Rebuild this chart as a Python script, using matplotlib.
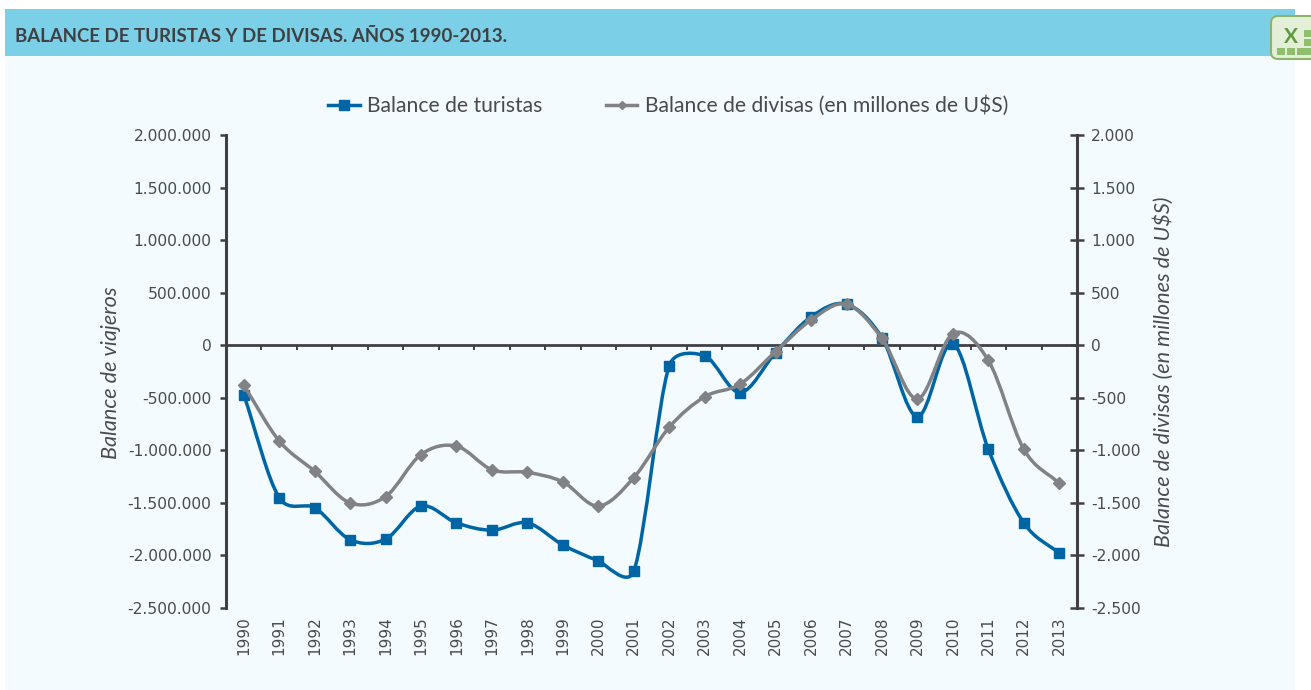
import numpy as np
import matplotlib
matplotlib.use("Agg")
import matplotlib.pyplot as plt
from matplotlib.lines import Line2D
from matplotlib.patches import PathPatch, Rectangle, FancyBboxPatch
from matplotlib.path import Path

# Data
years = [str(y) for y in range(1990, 2014)]
turistas = [-470000, -1450000, -1545000, -1850000, -1845000, -1530000, -1690000, -1760000,
            -1690000, -1900000, -2050000, -2150000, -195000, -100000, -450000, -70000,
            270000, 390000, 70000, -680000, 15000, -990000, -1690000, -1980000]
divisas = [-380, -910, -1200, -1500, -1440, -1040, -960, -1185,
           -1210, -1300, -1530, -1260, -780, -490, -370, -60,
           240, 390, 65, -510, 110, -145, -990, -1315]
left_ticks = [2000000, 1500000, 1000000, 500000, 0, -500000, -1000000, -1500000, -2000000, -2500000]
left_labels = ["2.000.000", "1.500.000", "1.000.000", "500.000", "0", "-500.000",
               "-1.000.000", "-1.500.000", "-2.000.000", "-2.500.000"]
right_ticks = [2000, 1500, 1000, 500, 0, -500, -1000, -1500, -2000, -2500]
right_labels = ["2.000", "1.500", "1.000", "500", "0", "-500", "-1.000", "-1.500", "-2.000", "-2.500"]

BLUE = "#0065A4"
GREY = "#808285"
DARK = "#404043"
TEXT = "#4A4A4D"
W, H = 1311, 690
plt.rcParams["font.family"] = ["Lato", "DejaVu Sans"]


def smooth_path(axis, xs, ys):
    # Excel's smoothed line: bezier segments worked out in pixels, tangents
    # shortened when a neighbour is far away compared to the segment
    pts = axis.transData.transform(np.column_stack([xs, ys]).astype(float))
    verts = [pts[0]]
    codes = [Path.MOVETO]
    for i in range(len(pts) - 1):
        p0 = pts[max(i - 1, 0)]
        p1 = pts[i]
        p2 = pts[i + 1]
        p3 = pts[min(i + 2, len(pts) - 1)]
        d02 = np.hypot(*(p2 - p0))
        d12 = np.hypot(*(p2 - p1))
        d13 = np.hypot(*(p3 - p1))
        if d02 / 6 < d12 / 2 and d13 / 6 < d12 / 2:
            f0 = 1 / 3 if i == 0 else 1 / 6
            f1 = 1 / 3 if i == len(pts) - 2 else 1 / 6
            b1 = p1 + f0 * (p2 - p0)
            b2 = p2 + f1 * (p1 - p3)
        elif d02 / 6 >= d12 / 2 and d13 / 6 >= d12 / 2:
            b1 = p1 + d12 / (2 * d02) * (p2 - p0)
            b2 = p2 + d12 / (2 * d13) * (p1 - p3)
        elif d02 / 6 >= d12 / 2:
            b1 = p1 + d12 / (2 * d02) * (p2 - p0)
            b2 = p2 + d12 / (2 * d02) * (p1 - p3)
        else:
            b1 = p1 + d12 / (2 * d13) * (p2 - p0)
            b2 = p2 + d12 / (2 * d13) * (p1 - p3)
        verts += [b1, b2, p2]
        codes += [Path.CURVE4, Path.CURVE4, Path.CURVE4]
    return Path(axis.transData.inverted().transform(np.array(verts)), codes)


fig = plt.figure(figsize=(W / 100, H / 100), dpi=100, facecolor="white")

# Panel, header band and the little spreadsheet icon, in pixel coordinates
bg = fig.add_axes([0, 0, 1, 1])
bg.set_xlim(0, W)
bg.set_ylim(H, 0)
bg.axis("off")
bg.add_patch(Rectangle((5, 9), 1290, 681, color="#F3FBFE", lw=0))
bg.add_patch(Rectangle((5, 9), 1290, 47, color="#7BCFE6", lw=0))
bg.text(15, 36, "BALANCE DE TURISTAS Y DE DIVISAS. AÑOS 1990-2013.", fontsize=13.4,
        fontweight="bold", color=DARK, va="center", ha="left")
bg.add_patch(FancyBboxPatch((1271, 16), 60, 43, boxstyle="round,pad=0,rounding_size=7",
                            fc="#E4EFD8", ec="#8DB36B", lw=1.5))
bg.text(1291, 37, "X", fontsize=15, fontweight="bold", color="#5E9A3E", ha="center", va="center")
for px, py in [(1277, 48), (1287, 48), (1297, 48), (1304, 30), (1304, 39), (1304, 48)]:
    bg.add_patch(Rectangle((px, py), 8, 7, color="#8FBF6C", lw=0))

# Main axes
ax = fig.add_axes([226 / W, 1 - 608 / H, (1077 - 226) / W, (608 - 135) / H])
ax.patch.set_alpha(0)
x = np.arange(len(years))
ax.set_xlim(-0.5, len(years) - 0.5)
ax.set_ylim(-2500000, 2000000)
ax.set_yticks(left_ticks)
ax.set_yticklabels(left_labels, family="DejaVu Sans")
ax.set_xticks(x)
ax.set_xticklabels(years, rotation=90, family="DejaVu Sans")
ax.tick_params(axis="x", length=0, pad=6, labelsize=11, labelcolor=TEXT)
ax.tick_params(axis="y", length=4.5, width=1.8, color=DARK, pad=6, labelsize=11.2, labelcolor=TEXT)
for side in ["top", "right", "bottom"]:
    ax.spines[side].set_visible(False)
ax.spines["left"].set_linewidth(2.2)
ax.spines["left"].set_color(DARK)

# Zero line with ticks between the categories
zero = ax.secondary_xaxis(2500000 / 4500000)
zero.set_xticks(np.arange(-0.5, len(years)))
zero.set_xticklabels([])
zero.tick_params(length=3.5, width=1.4, color=DARK, direction="in")
for side in ["top", "bottom"]:
    zero.spines[side].set_linewidth(2)
    zero.spines[side].set_color(DARK)

ax.add_patch(PathPatch(smooth_path(ax, x, turistas), fc="none", ec=BLUE, lw=2.5))
ax.plot(x, turistas, ls="none", marker="s", ms=7.4, color=BLUE)

# Right axis
ax2 = ax.twinx()
ax2.patch.set_alpha(0)
ax2.set_ylim(-2500, 2000)
ax2.set_yticks(right_ticks)
ax2.set_yticklabels(right_labels, family="DejaVu Sans")
ax2.tick_params(axis="y", length=10, width=1.8, color=DARK, pad=5, labelsize=11.2,
                labelcolor=TEXT, direction="inout")
for side in ["top", "left", "bottom"]:
    ax2.spines[side].set_visible(False)
ax2.spines["right"].set_linewidth(2.2)
ax2.spines["right"].set_color(DARK)
ax2.add_patch(PathPatch(smooth_path(ax2, x, divisas), fc="none", ec=GREY, lw=2.5))
ax2.plot(x, divisas, ls="none", marker="D", ms=6, color=GREY)

fig.text(111 / W, 1 - 373 / H, "Balance de viajeros", rotation=90, style="italic", fontsize=15.6,
         color=TEXT, ha="center", va="center")
fig.text(1164 / W, 1 - 372 / H, "Balance de divisas (en millones de U$S)", rotation=90, style="italic",
         fontsize=15.6, color=TEXT, ha="center", va="center")

handles = [Line2D([], [], color=BLUE, lw=2.5, marker="s", ms=6.5),
           Line2D([], [], color=GREY, lw=2.5, marker="D", ms=4.5)]
fig.legend(handles, ["Balance de turistas", "Balance de divisas (en millones de U$S)"], ncol=2,
           frameon=False, fontsize=15.2, labelcolor=TEXT, loc="center", handlelength=1.5,
           handletextpad=0.35, columnspacing=3.0, bbox_to_anchor=(668 / W, 1 - 106 / H))

plt.savefig("out.png", dpi=100, facecolor=fig.get_facecolor())
